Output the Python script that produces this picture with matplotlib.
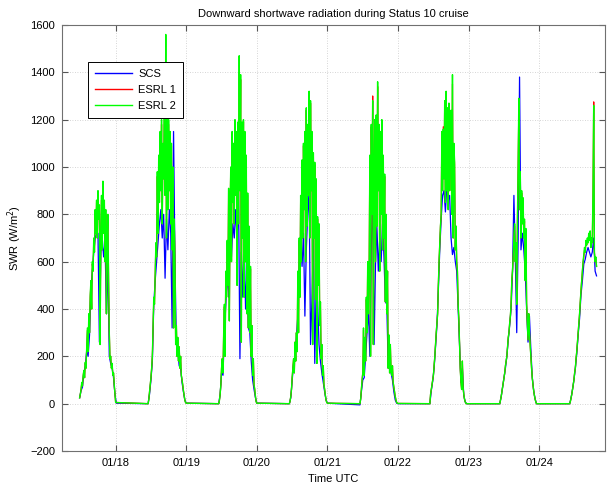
import numpy as np
import matplotlib
matplotlib.use('Agg')
import matplotlib.pyplot as plt

plt.rcParams['font.family'] = ['Liberation Sans', 'DejaVu Sans']

# ---- data, time in January day number, SWR in W/m^2 ----
# ESRL 2 and ESRL 1, every 0.01 day from the given start
fine_starts = [17.49, 18.46, 19.46, 20.46, 21.46, 22.45, 23.44, 24.43]
green_d17 = [25, 40, 60, 90, 75, 120, 140, 110, 175, 150, 230, 320, 220, 380, 300, 460, 520, 400, 600, 560,
             700, 640, 820, 720, 860, 700, 900, 780, 840, 250, 700, 880, 650, 940, 720, 860, 600, 820, 380, 700,
             800, 520, 300, 190, 200, 150, 170, 120, 130, 80, 40, 5]
green_d18 = [0, 20, 50, 80, 110, 150, 200, 330, 450, 420, 560, 680, 620, 980, 720, 1050, 850, 1150, 900, 1200,
             760, 1100, 950, 1250, 880, 1560, 700, 1300, 820, 1200, 900, 1150, 760, 1100, 650, 1000, 320, 780, 600, 250,
             330, 200, 280, 180, 240, 150, 200, 120, 100, 80, 55, 35, 15, 5, 2]
green_d19 = [0, 15, 40, 80, 150, 190, 130, 300, 420, 200, 560, 450, 690, 500, 910, 350, 800, 1000, 600, 1150,
             850, 1100, 760, 1200, 880, 1150, 500, 1190, 760, 1470, 900, 1390, 260, 1190, 700, 1200, 450, 1150, 600, 1050,
             380, 890, 320, 750, 300, 580, 200, 330, 120, 190, 80, 60, 30, 8, 2]
green_d20 = [0, 10, 30, 60, 110, 150, 190, 130, 260, 180, 300, 220, 560, 300, 700, 450, 880, 600, 1030, 700,
             1100, 820, 1150, 600, 1250, 750, 1180, 880, 1320, 700, 1280, 900, 1150, 250, 1060, 700, 1020, 440, 950, 170,
             790, 500, 760, 330, 430, 190, 250, 120, 160, 80, 60, 35, 15, 5, 2]
green_d21 = [0, 20, 60, 100, 130, 320, 120, 280, 180, 450, 300, 600, 380, 560, 1050, 200, 1180, 800, 1280, 250,
             1000, 1200, 600, 1220, 750, 1360, 900, 1180, 560, 1150, 800, 1200, 650, 1050, 700, 970, 430, 800, 380, 560,
             150, 290, 130, 250, 140, 120, 160, 90, 70, 50, 30, 15, 5, 2, 1]
green_d22 = [0, 40, 60, 80, 100, 120, 160, 200, 250, 300, 340, 380, 500, 600, 680, 750, 800, 1150, 900, 1160,
             950, 1280, 850, 1320, 900, 1250, 820, 1270, 900, 1180, 1240, 800, 1390, 700, 1100, 1020, 650, 750, 600, 560,
             420, 360, 260, 150, 90, 60, 180, 70, 40, 20, 8, 2, 0]
green_d23 = [0, 15, 30, 50, 70, 90, 110, 130, 160, 180, 200, 240, 280, 300, 340, 370, 420, 520, 560, 620,
             700, 760, 600, 680, 420, 780, 1010, 1290, 820, 980, 700, 900, 760, 870, 700, 780, 520, 740, 420, 350,
             270, 380, 300, 250, 200, 150, 110, 80, 55, 35, 20, 8, 0]
green_d24 = [0, 10, 25, 40, 60, 80, 100, 130, 150, 190, 220, 260, 300, 340, 380, 430, 480, 520, 560, 600,
             630, 660, 640, 690, 670, 700, 680, 720, 690, 730, 660, 700, 680, 900, 1260, 640, 600, 620, 580]

red_d17 = [25, 40, 60, 85, 75, 115, 140, 110, 170, 150, 225, 310, 220, 370, 300, 450, 510, 400, 590, 560,
           690, 640, 800, 720, 850, 700, 870, 780, 830, 250, 700, 860, 650, 910, 720, 850, 600, 800, 380, 700,
           790, 520, 300, 190, 200, 150, 170, 120, 130, 80, 40, 5]
red_d18 = [0, 20, 50, 80, 110, 150, 200, 320, 440, 420, 550, 670, 620, 960, 720, 1030, 850, 1130, 900, 1180,
           760, 1090, 950, 1230, 880, 1300, 700, 1280, 820, 1180, 900, 1140, 760, 1090, 650, 990, 320, 770, 600, 250,
           330, 200, 280, 180, 240, 150, 200, 120, 100, 80, 55, 35, 15, 5, 2]
red_d19 = [0, 15, 40, 80, 150, 190, 130, 300, 410, 200, 550, 450, 680, 500, 900, 350, 790, 990, 600, 1140,
           850, 1090, 760, 1190, 880, 1140, 500, 1180, 760, 1395, 900, 1370, 260, 1180, 700, 1190, 450, 1140, 600, 1040,
           380, 880, 320, 740, 300, 570, 200, 330, 120, 190, 80, 60, 30, 8, 2]
red_d20 = [0, 10, 30, 60, 110, 150, 190, 130, 260, 180, 300, 220, 550, 300, 690, 450, 870, 600, 1020, 700,
           1090, 820, 1140, 600, 1240, 750, 1170, 880, 1300, 700, 1270, 900, 1140, 250, 1050, 700, 1010, 440, 940, 170,
           780, 500, 750, 330, 430, 190, 250, 120, 160, 80, 60, 35, 15, 5, 2]
red_d21 = [0, 20, 60, 100, 130, 310, 120, 280, 180, 440, 300, 590, 380, 560, 1040, 200, 1170, 800, 1300, 250,
           990, 1190, 600, 1210, 750, 1340, 900, 1170, 560, 1140, 800, 1190, 650, 1040, 700, 960, 430, 790, 380, 560,
           150, 290, 130, 250, 140, 120, 160, 90, 70, 50, 30, 15, 5, 2, 1]
red_d22 = [0, 40, 60, 80, 100, 120, 160, 200, 250, 300, 340, 380, 500, 600, 680, 750, 800, 1140, 900, 1170,
           950, 1270, 850, 1300, 900, 1240, 820, 1260, 900, 1170, 1230, 800, 1350, 700, 1090, 1010, 650, 750, 600, 560,
           420, 360, 260, 150, 90, 60, 180, 70, 40, 20, 8, 2, 0]
red_d23 = [0, 15, 30, 50, 70, 90, 110, 130, 160, 180, 200, 240, 280, 300, 340, 370, 420, 520, 560, 620,
           690, 750, 600, 680, 420, 770, 1000, 1250, 820, 970, 700, 890, 760, 860, 700, 770, 520, 730, 420, 350,
           270, 380, 300, 250, 200, 150, 110, 80, 55, 35, 20, 8, 0]
red_d24 = [0, 10, 25, 40, 60, 80, 100, 130, 150, 190, 220, 260, 300, 340, 380, 430, 480, 520, 560, 600,
           620, 650, 640, 680, 670, 690, 680, 710, 690, 720, 660, 690, 680, 880, 1275, 640, 600, 610, 580]

# SCS, every 0.02 day from the given start
coarse_starts = [17.49, 18.46, 19.46, 20.46, 21.46, 22.45, 23.44, 24.43]
blue_d17 = [25, 55, 70, 130, 160, 220, 200, 290, 480, 560, 640, 700, 720, 720, 260, 640, 700, 620, 680, 380,
            600, 200, 170, 150, 110, 40, 2]
blue_d18 = [0, 40, 100, 180, 420, 520, 600, 680, 760, 820, 700, 800, 530, 780, 650, 820, 720, 320, 1150, 600,
            250, 220, 160, 150, 90, 50, 15, 2]
blue_d19 = [0, 40, 130, 120, 300, 420, 560, 450, 700, 620, 760, 700, 820, 690, 900, 190, 640, 450, 700, 400,
            560, 320, 300, 180, 100, 60, 25, 2]
blue_d20 = [0, 25, 100, 170, 200, 280, 370, 580, 700, 580, 720, 370, 650, 800, 900, 250, 440, 700, 170, 500,
            430, 250, 180, 130, 90, 50, 15, 2]
blue_d21 = [-5, 50, 100, 110, 200, 300, 400, 200, 650, 900, 250, 590, 750, 560, 700, 600, 760, 620, 430, 420,
            150, 180, 130, 100, 50, 15, 2, 0]
blue_d22 = [0, 55, 95, 150, 240, 330, 480, 650, 780, 880, 900, 810, 920, 860, 880, 700, 630, 660, 600, 560,
            410, 250, 90, 150, 35, 8, 0]
blue_d23 = [0, 30, 70, 110, 150, 200, 270, 330, 400, 550, 880, 620, 300, 690, 1380, 650, 720, 650, 560, 400,
            260, 370, 230, 110, 55, 20, 0]
blue_d24 = [0, 25, 60, 100, 150, 210, 290, 360, 460, 520, 590, 610, 640, 660, 640, 620, 640, 700, 560, 540]

tick_days = [18, 19, 20, 21, 22, 23, 24]
tick_labels = ['01/18', '01/19', '01/20', '01/21', '01/22', '01/23', '01/24']


def build(starts, days, step):
    t, v = [], []
    for s, vals in zip(starts, days):
        t.extend(s + step * np.arange(len(vals)))
        v.extend(vals)
    return np.array(t), np.array(v, dtype=float)


t_b, v_b = build(coarse_starts, [blue_d17, blue_d18, blue_d19, blue_d20, blue_d21, blue_d22, blue_d23, blue_d24], 0.02)
t_r, v_r = build(fine_starts, [red_d17, red_d18, red_d19, red_d20, red_d21, red_d22, red_d23, red_d24], 0.01)
t_g, v_g = build(fine_starts, [green_d17, green_d18, green_d19, green_d20, green_d21, green_d22, green_d23, green_d24], 0.01)

fig = plt.figure(figsize=(6.10, 4.87), dpi=100)
ax = fig.add_axes([0.1016, 0.0739, 0.8902, 0.8748])

ax.plot(t_b, v_b, color='#0000ff', lw=0.9, label='SCS')
ax.plot(t_r, v_r, color='#ff0000', lw=0.9, label='ESRL 1')
ax.plot(t_g, v_g, color='#00ff00', lw=1.0, label='ESRL 2')

ax.set_xlim(17.24, 24.93)
ax.set_ylim(-200, 1600)
ax.set_yticks(np.arange(-200, 1601, 200))
ax.set_xticks(tick_days)
ax.set_xticklabels(tick_labels)

ax.grid(True, linestyle=(0, (1, 2)), color='#c8c8c8', lw=0.6)
ax.tick_params(direction='in', top=True, right=True, labelsize=8, length=4, color='#555555', pad=5)
for sp in ax.spines.values():
    sp.set_color('#707070')
    sp.set_linewidth(0.8)

ax.set_title('Downward shortwave radiation during Status 10 cruise', fontsize=8, pad=6)
ax.set_xlabel('Time UTC', fontsize=8, labelpad=4)
ax.set_ylabel('SWR (W/m$^2$)', fontsize=8)

leg = ax.legend(loc='upper left', bbox_to_anchor=(0.048, 0.913), borderaxespad=0, fontsize=8,
                fancybox=False, framealpha=1, edgecolor='black', borderpad=0.6, handlelength=3.4,
                handletextpad=0.5, labelspacing=0.55)
leg.get_frame().set_linewidth(0.7)
for h, c in zip(leg.get_lines(), ['#0000ff', '#ff0000', '#00ff00']):
    h.set_color(c)
    h.set_linewidth(1.0)

fig.savefig('out.png', dpi=100)
